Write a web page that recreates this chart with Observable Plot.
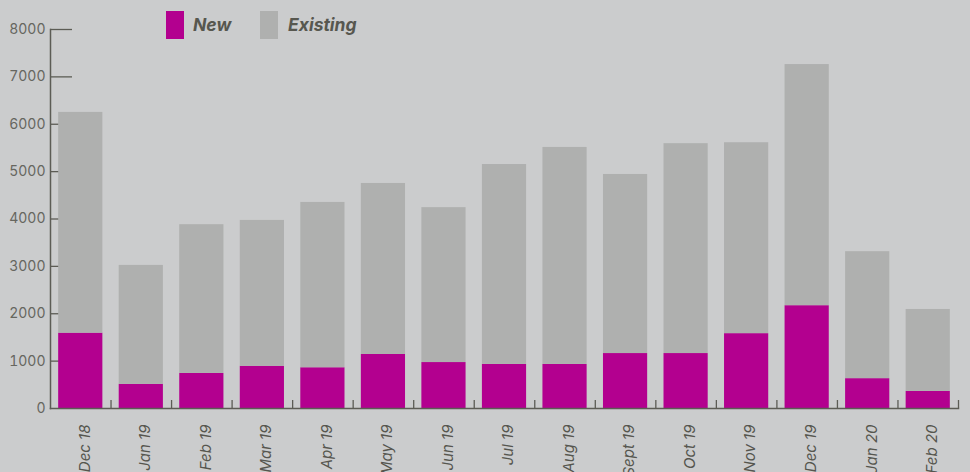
<!DOCTYPE html>
<html><head><meta charset="utf-8">
<script src="https://cdn.jsdelivr.net/npm/d3@7"></script>
<script src="https://cdn.jsdelivr.net/npm/@observablehq/plot@0.6"></script>
<style>
html,body{margin:0;padding:0;background:#cbcccd;}
#wrap{position:relative;width:970px;height:472px;overflow:hidden;}
#wrap svg{position:absolute;left:0;top:0;}
.lg{position:absolute;font-family:Inter,"DejaVu Sans",sans-serif;font-weight:700;font-style:italic;font-size:17.5px;color:#57574f;line-height:28px;top:11px;}
.sw{position:absolute;top:11px;width:18px;height:28px;}
</style></head><body>
<div id="wrap"></div>
<script>
const months = ["Dec 18","Jan 19","Feb 19","Mar 19","Apr 19","May 19","Jun 19","Jul 19","Aug 19","Sept 19","Oct 19","Nov 19","Dec 19","Jan 20","Feb 20"];
const newValues = [1590, 510, 740, 890, 860, 1140, 970, 930, 930, 1160, 1160, 1580, 2170, 630, 360];
const existingValues = [4660, 2510, 3140, 3080, 3490, 3610, 3270, 4220, 4580, 3780, 4430, 4030, 5090, 2680, 1730];
const yTicks = [0, 1000, 2000, 3000, 4000, 5000, 6000, 7000, 8000];
const seriesNames = ["New", "Existing"];
const seriesColors = ["#b3008f", "#afb0af"];

const data = months.flatMap((m, i) => [
  {month: m, series: "New", value: newValues[i]},
  {month: m, series: "Existing", value: existingValues[i]}
]);

const W = 970, H = 472, ML = 50, MR = 12, MT = 29, MB = 64;
const step = (W - ML - MR) / months.length;
const axisColor = "#5c5c55";

const chart = Plot.plot({
  width: W, height: H,
  marginLeft: ML, marginRight: MR, marginTop: MT, marginBottom: MB,
  style: {background: "transparent", fontFamily: "Inter, sans-serif"},
  x: {domain: months, paddingInner: 0.27, paddingOuter: 0.135, round: false, label: null},
  y: {domain: [0, 8000], label: null},
  color: {domain: seriesNames, range: seriesColors},
  marks: [
    Plot.ruleY(yTicks.slice(1), {stroke: axisColor, strokeWidth: 1.3, insetRight: W - ML - MR - 22}),
    Plot.barY(data, {x: "month", y: "value", fill: "series", order: seriesNames}),
    Plot.ruleX(months, {x: d => d, dx: step / 2, stroke: axisColor, strokeWidth: 1.3, insetTop: H - MT - MB - 8}),
    Plot.axisY(yTicks, {tickSize: 0, tickPadding: 5, tickFormat: d3.format("d"), fontSize: 14, fill: "#66665f", label: null}),
    Plot.axisX({tickSize: 0, tickRotate: -90, tickPadding: 16, dx: 4, fontSize: 15, fontStyle: "italic", fill: "#56564f", label: null}),
    Plot.frame({anchor: "left", stroke: axisColor, strokeWidth: 1.5}),
    Plot.frame({anchor: "bottom", stroke: axisColor, strokeWidth: 1.5})
  ]
});
const wrap = document.getElementById("wrap");
wrap.appendChild(chart);

const legendPos = [[166, 193], [260, 288]];
seriesNames.forEach((s, i) => {
  const sw = document.createElement("div");
  sw.className = "sw";
  sw.style.left = legendPos[i][0] + "px";
  sw.style.background = seriesColors[i];
  wrap.appendChild(sw);
  const t = document.createElement("div");
  t.className = "lg";
  t.style.left = legendPos[i][1] + "px";
  t.textContent = s;
  wrap.appendChild(t);
});
</script>
</body></html>
